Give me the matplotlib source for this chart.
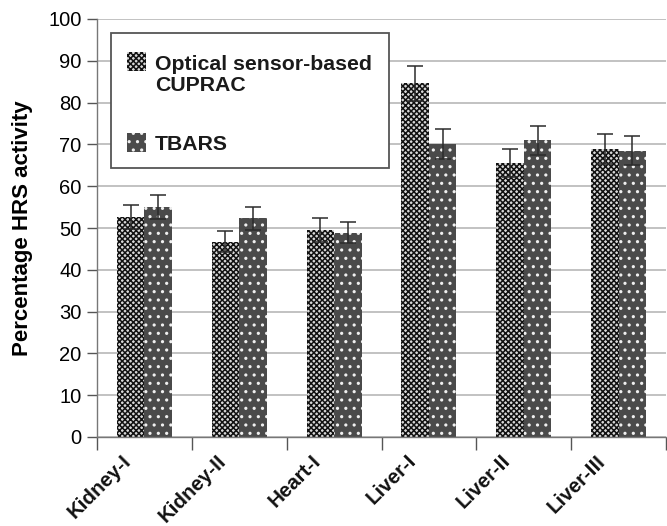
import matplotlib
matplotlib.use("Agg")
import matplotlib.pyplot as plt
from matplotlib.patches import Rectangle
from matplotlib.transforms import offset_copy
import numpy as np

categories = ["Kidney-I", "Kidney-II", "Heart-I", "Liver-I", "Liver-II", "Liver-III"]
cuprac = [52.7, 46.7, 49.5, 84.6, 65.5, 68.8]
cuprac_err = [2.9, 2.5, 2.9, 4.2, 3.4, 3.6]
tbars = [55.1, 52.3, 48.9, 70.0, 71.0, 68.5]
tbars_err = [2.9, 2.8, 2.6, 3.6, 3.5, 3.4]
series_names = ["Optical sensor-based\nCUPRAC", "TBARS"]
y_ticks = list(range(0, 101, 10))

plt.rcParams["font.family"] = ["Liberation Sans", "DejaVu Sans"]
plt.rcParams["hatch.linewidth"] = 1.1

W, H = 667, 526
fig = plt.figure(figsize=(W / 100, H / 100), dpi=100)
ax = fig.add_axes([97 / W, 1 - 437 / H, (666 - 97) / W, (437 - 19) / H])

styles = [
    dict(facecolor="#d8d8d8", edgecolor="#111111", hatch="xxxxxx"),
    dict(facecolor="#4a4a4a", edgecolor="#f0f0f0", hatch=".."),
]

x = np.arange(len(categories))
w = 0.29

ax.bar(x - w / 2, cuprac, w, linewidth=0, zorder=2, **styles[0])
ax.bar(x + w / 2, tbars, w, linewidth=0, zorder=2, **styles[1])

for xs, vals, errs in ((x - w / 2, cuprac, cuprac_err), (x + w / 2, tbars, tbars_err)):
    ax.errorbar(xs, vals, yerr=errs, fmt="none", ecolor="#2b2b2b",
                elinewidth=1.1, capsize=5.5, capthick=1.1, zorder=3)

ax.set_xlim(-0.5, len(categories) - 0.5)
ax.set_ylim(0, 100)
ax.set_yticks(y_ticks)
ax.set_yticklabels([str(t) for t in y_ticks], fontsize=14.5)
ax.yaxis.grid(True, color="#c2c2c2", linewidth=1.4, zorder=0)
ax.set_axisbelow(True)

# category boundaries carry the tick marks; names sit under the group centres
ax.set_xticks(np.arange(len(categories) + 1) - 0.5)
ax.set_xticklabels([])
ax.tick_params(axis="x", length=9, width=1, color="#555555")
ax.tick_params(axis="y", length=7, width=1, color="#555555", pad=4)
label_tr = offset_copy(ax.get_xaxis_transform(), fig=fig, x=-16, y=-21, units="dots")
for xi, name in zip(x, categories):
    ax.text(xi, 0, name, transform=label_tr, rotation=45, ha="right", va="center",
            rotation_mode="anchor", fontsize=14.8, fontweight="bold", color="#111111")

for side in ("top", "right"):
    ax.spines[side].set_visible(False)
for side in ("left", "bottom"):
    ax.spines[side].set_color("#777777")
    ax.spines[side].set_linewidth(1.0)

ax.set_ylabel("Percentage HRS activity", fontsize=16, fontweight="bold")
ax.yaxis.set_label_coords((33 - 97) / 569, 0.5)

# legend box
def fx(px):
    return px / W

def fy(py):
    return 1 - py / H

fig.add_artist(Rectangle((fx(111), fy(168)), fx(389) - fx(111), fy(33) - fy(168),
                         transform=fig.transFigure, facecolor="white",
                         edgecolor="#555555", linewidth=1.3, zorder=5))
swatch_tops = [52, 133]
text_tops = [55, 135]
for style, name, st, tt in zip(styles, series_names, swatch_tops, text_tops):
    fig.add_artist(Rectangle((fx(127), fy(st + 19)), fx(146) - fx(127), fy(st) - fy(st + 19),
                             transform=fig.transFigure, linewidth=0, zorder=6, **style))
    fig.text(fx(155), fy(tt), name, ha="left", va="top", fontsize=15.3,
             fontweight="bold", color="#1a1a1a", zorder=7, linespacing=1.15)

fig.savefig("out.png", dpi=100)
